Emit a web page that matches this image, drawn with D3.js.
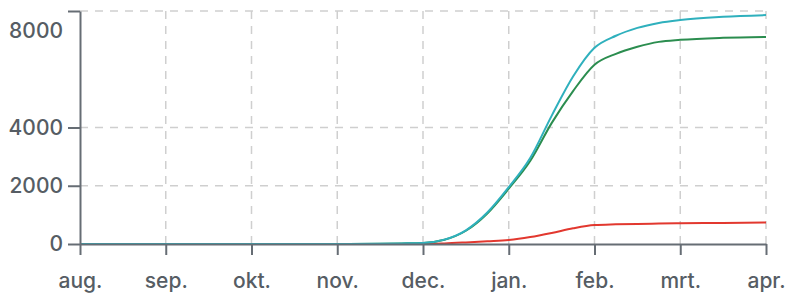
<!DOCTYPE html>
<html>
<head>
<meta charset="utf-8">
<script src="https://cdn.jsdelivr.net/npm/d3@7"></script>
<style>
  html, body { margin: 0; padding: 0; background: #fff; }
  svg { display: block; }
</style>
</head>
<body>
<svg id="chart"></svg>
<script>
// month labels, one per tick (aug .. apr)
const MONTHS = ['aug.', 'sep.', 'okt.', 'nov.', 'dec.', 'jan.', 'feb.', 'mrt.', 'apr.'];
const Y_TICKS = [0, 2000, 4000, 8000];

// sample positions in months since aug (0 = aug, 8 = apr)
const T = [0, 1, 2, 3, 3.5, 3.75, 4, 4.25, 4.5, 4.75, 5, 5.25, 5.5, 5.75, 6, 6.25, 6.5, 6.75, 7, 7.5, 8];

const BLUE  = [0, 0, 0, 0, 10, 20, 35, 150, 470, 1080, 1950, 2950, 4400, 5750, 6735, 7150, 7420, 7590, 7690, 7800, 7860];
const GREEN = [0, 0, 0, 0, 10, 20, 35, 145, 455, 1050, 1900, 2850, 4150, 5250, 6155, 6530, 6770, 6940, 7010, 7080, 7110];
const RED   = [0, 0, 0, 0, 0, 0, 0, 20, 55, 95, 140, 240, 380, 540, 650, 675, 690, 700, 710, 725, 740];

const width = 790;
const height = 297;
const margin = { top: 11, right: 24, bottom: 53, left: 80 };

const svg = d3.select('#chart')
  .attr('width', width)
  .attr('height', height)
  .attr('viewBox', `0 0 ${width} ${height}`);

const x = d3.scaleLinear()
  .domain([0, MONTHS.length - 1])
  .range([margin.left, width - margin.right]);

const y = d3.scaleLinear()
  .domain([0, 8000])
  .range([height - margin.bottom, margin.top]);

const font = 'Inter, "DejaVu Sans", sans-serif';
const axisColor = '#666d74';
const gridColor = '#cfcfcf';

// Grid
const grid = svg.append('g');
grid.selectAll('.vgrid')
  .data(d3.range(1, MONTHS.length))
  .join('line')
  .attr('x1', d => x(d)).attr('x2', d => x(d))
  .attr('y1', y(8000)).attr('y2', y(0))
  .attr('stroke', gridColor)
  .attr('stroke-width', 1.5)
  .attr('stroke-dasharray', '8,7');

grid.selectAll('.hgrid')
  .data(Y_TICKS.filter(d => d > 0))
  .join('line')
  .attr('x1', x(0)).attr('x2', x(MONTHS.length - 1))
  .attr('y1', d => y(d)).attr('y2', d => y(d))
  .attr('stroke', gridColor)
  .attr('stroke-width', 1.5)
  .attr('stroke-dasharray', '8,7');

// Lines
const line = d3.line()
  .x((d, i) => x(T[i]))
  .y(d => y(d))
  .curve(d3.curveMonotoneX);

const series = [
  { values: RED, color: '#e2382f' },
  { values: GREEN, color: '#2b8d4f' },
  { values: BLUE, color: '#2fb0bd' },
];

svg.append('g')
  .selectAll('path')
  .data(series)
  .join('path')
  .attr('fill', 'none')
  .attr('stroke', d => d.color)
  .attr('stroke-width', 2)
  .attr('stroke-linejoin', 'round')
  .attr('d', d => line(d.values));

// Axes
const xAxis = svg.append('g')
  .attr('transform', `translate(0,${y(0)})`)
  .call(d3.axisBottom(x)
    .tickValues(d3.range(MONTHS.length))
    .tickFormat(i => MONTHS[i])
    .tickSize(11)
    .tickPadding(18)
    .tickSizeOuter(0));

const yAxis = svg.append('g')
  .attr('transform', `translate(${margin.left},0)`)
  .call(d3.axisLeft(y)
    .tickValues(Y_TICKS)
    .tickFormat(d3.format('d'))
    .tickSize(12)
    .tickPadding(5)
    .tickSizeOuter(0));

[xAxis, yAxis].forEach(ax => {
  ax.select('.domain').attr('stroke', axisColor).attr('stroke-width', 2);
  ax.selectAll('.tick line').attr('stroke', axisColor).attr('stroke-width', 2);
  ax.selectAll('.tick text')
    .attr('fill', '#565d64')
    .style('font-family', font)
    .style('font-size', '21px')
    .style('font-weight', 500);
});

// the top label sits a bit lower than its tick
yAxis.selectAll('.tick')
  .filter(d => d === 8000)
  .select('text')
  .attr('dy', '1.25em');
</script>
</body>
</html>
